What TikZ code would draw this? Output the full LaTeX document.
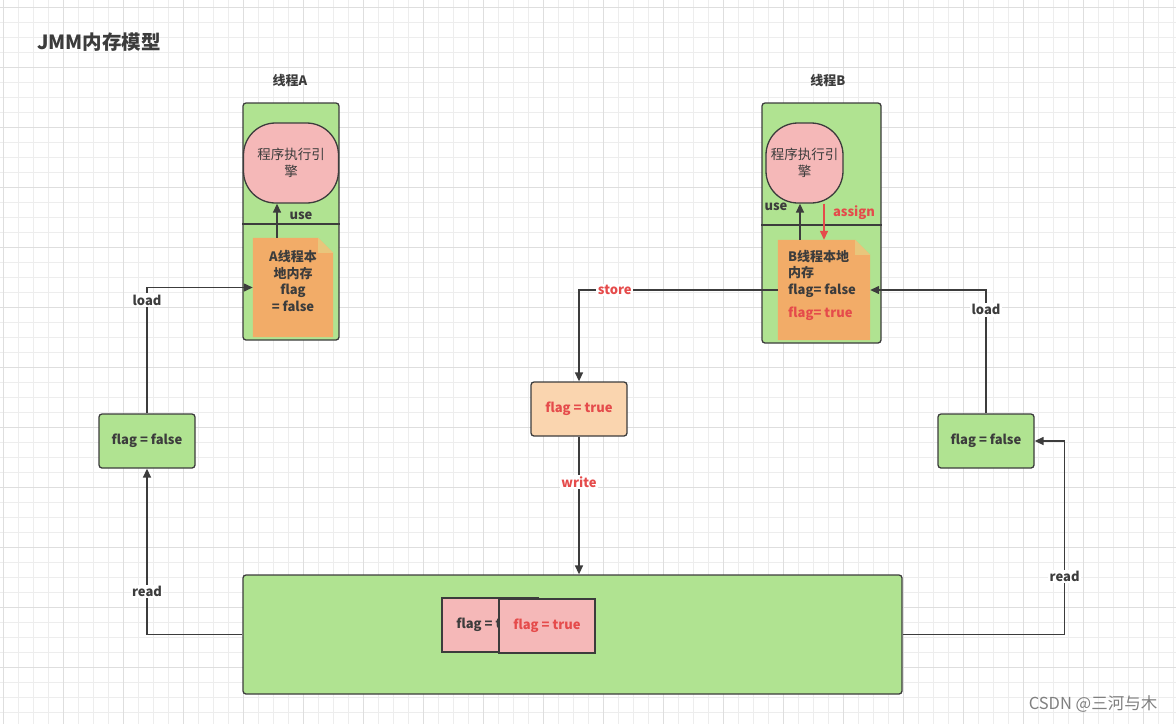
\documentclass[tikz,border=0pt]{standalone}
\usepackage{fontspec}
\setmainfont{Noto Sans CJK SC}
\usetikzlibrary{arrows.meta,calc}
\definecolor{gfill}{HTML}{B0E391}
\definecolor{pfill}{HTML}{F5B8B8}
\definecolor{ofill}{HTML}{F2AC68}
\definecolor{fold}{HTML}{E8C67C}
\definecolor{tfill}{HTML}{FAD5AF}
\definecolor{redt}{HTML}{E54B4B}
\definecolor{edge}{HTML}{3C3C3C}
\definecolor{gridminor}{HTML}{EDEDED}
\definecolor{gridmajor}{HTML}{DEDEDE}
\tikzset{
  box/.style={draw=edge, line width=1.3pt, rounded corners=3pt, inner sep=0pt, align=center,
    font=\fontsize{13}{15}\selectfont\bfseries, text=edge},
  greenbox/.style={box, fill=gfill},
  pinkbox/.style={box, fill=pfill, rounded corners=0pt},
  engine/.style={draw=edge, line width=1.3pt, fill=pfill, rounded corners=32pt, inner sep=0pt,
    align=center, font=\fontsize{13.5}{17}\selectfont, text=edge},
  notebox/.style={inner sep=0pt, font=\fontsize{13}{16.5}\selectfont\bfseries, text=edge},
  arr/.style={draw=edge, line width=1.4pt, -{Triangle[length=9pt,width=8pt]}},
  redarr/.style={draw=redt, line width=1.4pt, -{Triangle[length=9pt,width=8pt]}},
  lbl/.style={fill=white, inner sep=1.5pt, font=\fontsize{13}{15}\selectfont\bfseries, text=edge},
  rlbl/.style={lbl, text=redt},
  plainlbl/.style={inner sep=1pt, font=\fontsize{13}{15}\selectfont\bfseries, text=edge},
}
\begin{document}
\begin{tikzpicture}[x=1pt,y=-1pt]
\useasboundingbox (0,0) rectangle (1176,724);
\fill[white] (0,0) rectangle (1176,724);
% grid
\foreach \i in {0,...,78} {
  \pgfmathsetmacro\gx{3.3+15*\i}
  \draw[gridminor, line width=0.8pt] (\gx,0) -- (\gx,724);
}
\foreach \i in {0,...,48} {
  \pgfmathsetmacro\gy{7+15*\i}
  \draw[gridminor, line width=0.8pt] (0,\gy) -- (1176,\gy);
}
\foreach \i in {0,...,19} {
  \pgfmathsetmacro\gx{3.3+60*\i}
  \draw[gridmajor, line width=0.8pt] (\gx,0) -- (\gx,724);
}
\foreach \i in {0,...,12} {
  \pgfmathsetmacro\gy{7+60*\i}
  \draw[gridmajor, line width=0.8pt] (0,\gy) -- (1176,\gy);
}

% title
\node[anchor=west, inner sep=0pt, font=\fontsize{19.5}{22}\selectfont\bfseries, text=edge] (title) at (37,42) {JMM内存模型};

% thread A
\node[plainlbl] (labA) at (290,81) {线程A};
\node[greenbox, minimum width=96pt, minimum height=237pt] (thA) at (291,221.5) {};
\draw[edge, line width=1.3pt] (thA.west |- 0,224) -- (thA.east |- 0,224);
\node[engine, minimum width=95pt, minimum height=80pt] (engA) at (291,163) {程序执行引\\擎};
\node[notebox, minimum width=80pt, minimum height=99pt] (noteA) at (293,287.5) {};
\fill[ofill] (noteA.north west) -- ([xshift=-15pt]noteA.north east) -- ([yshift=-15pt]noteA.north east) -- (noteA.south east) -- (noteA.south west) -- cycle;
\fill[fold] ([xshift=-15pt]noteA.north east) -- ([xshift=-15pt,yshift=-15pt]noteA.north east) -- ([yshift=-15pt]noteA.north east) -- cycle;
\node[notebox, align=center] (txtA) at (293,281) {A线程本\\地内存\\flag\\= false};
\draw[arr] ([xshift=-16pt]noteA.north) -- ([xshift=-16pt]noteA.north |- engA.south);
\node[plainlbl] (useA) at (301,216) {use};

% thread B
\node[plainlbl] (labB) at (828,81) {线程B};
\node[greenbox, minimum width=119pt, minimum height=240pt] (thB) at (821.5,223) {};
\draw[edge, line width=1.3pt] (thB.west |- 0,225) -- (thB.east |- 0,225);
\node[engine, minimum width=77pt, minimum height=80pt] (engB) at (804.5,163) {程序执行引\\擎};
\node[notebox, minimum width=92pt, minimum height=100pt] (noteB) at (824,290) {};
\fill[ofill] (noteB.north west) -- ([xshift=-15pt]noteB.north east) -- ([yshift=-15pt]noteB.north east) -- (noteB.south east) -- (noteB.south west) -- cycle;
\fill[fold] ([xshift=-15pt]noteB.north east) -- ([xshift=-15pt,yshift=-15pt]noteB.north east) -- ([yshift=-15pt]noteB.north east) -- cycle;
\node[notebox, anchor=north west, align=left] (txtB) at (788,250) {B线程本地\\内存\\flag= false\\[7pt]\textcolor{redt}{flag= true}};
\draw[arr] ([xshift=-24pt]noteB.north) -- ([xshift=-24pt]noteB.north |- engB.south);
\draw[redarr] (noteB.north |- engB.south) -- (noteB.north);
\node[plainlbl] (useB) at (776,207) {use};
\node[plainlbl, text=redt] (asg) at (854,213) {assign};

% middle
\node[box, fill=tfill, minimum width=96pt, minimum height=54pt, text=redt] (flagT) at (579,409) {flag = true};
\node[greenbox, minimum width=659pt, minimum height=119pt] (main) at (572.5,634.5) {};
\node[pinkbox, minimum width=96pt, minimum height=54pt] (m1) at (490,625) {flag = true};
\node[pinkbox, minimum width=96pt, minimum height=54pt, text=redt] (m2) at (547,626) {flag = true};

% side boxes
\node[greenbox, minimum width=96pt, minimum height=54pt] (flagL) at (147,441) {flag = false};
\node[greenbox, minimum width=96pt, minimum height=54pt] (flagR) at (986,441) {flag = false};

% connectors
\draw[arr] (noteB.west) -| node[pos=0.41, rlbl] {store} (flagT.north);
\draw[arr] (flagT.south) -- node[pos=0.33, rlbl] {write} (flagT.south |- main.north);
\draw[arr] (main.west) -| node[pos=0.63, lbl] {read} (flagL.south);
\draw[arr] (flagL.north) |- node[pos=0.45, lbl] {load} (noteA.west);
\draw[arr] (main.east) -- ++(162,0) |- node[pos=0.15, lbl] {read} (flagR.east);
\draw[arr] (flagR.north) |- node[pos=0.42, lbl] {load} (noteB.east);

% watermark
\node[inner sep=0pt, font=\fontsize{16.5}{18}\selectfont, text=black!50] (wm) at (1093,704) {CSDN @三河与木};
\end{tikzpicture}
\end{document}
